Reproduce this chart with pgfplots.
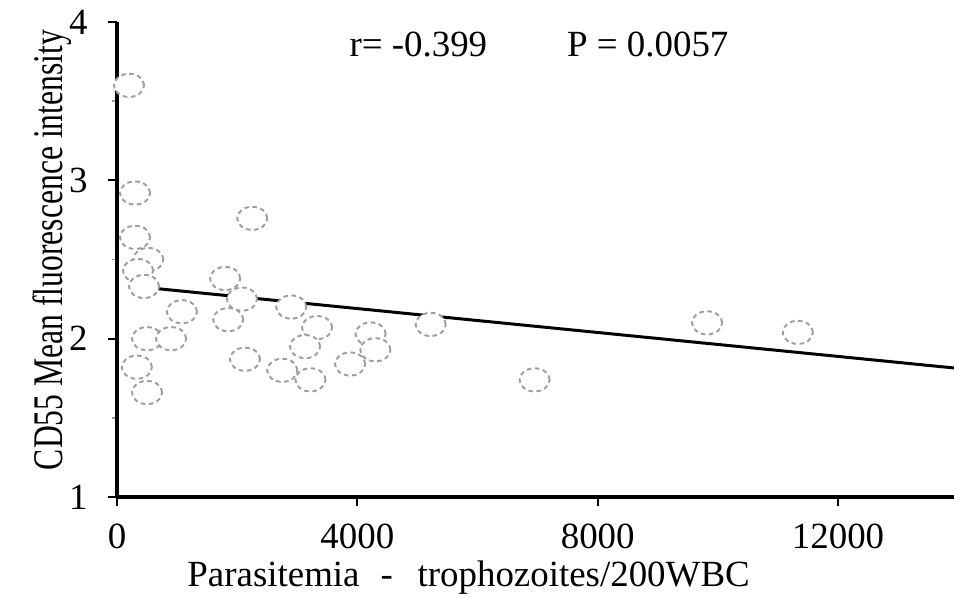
\documentclass[border=0pt]{standalone}
\usepackage{fontspec}
\setmainfont{Liberation Serif}
\usepackage{pgfplots}
\pgfplotsset{compat=1.18}

\begin{document}
\begin{tikzpicture}
\begin{axis}[
    name=ax,
    width=8.37cm, height=4.75cm,
    scale only axis,
    xmin=0, xmax=13930,
    ymin=1, ymax=4,
    axis x line*=bottom,
    axis y line*=left,
    axis line style={line width=0.9pt},
    xtick={0,4000,8000,12000},
    ytick={1,2,3,4},
    scaled ticks=false,
    minor y tick num=1,
    tick align=outside,
    major tick length=0.09cm,
    minor tick length=0.05cm,
    tick style={black, line width=0.6pt},
    minor tick style={black!40, line width=0.4pt},
    /pgf/number format/assume math mode=true,
    /pgf/number format/set thousands separator={},
    tick label style={font=\fontsize{10.5}{12}\selectfont},
    xticklabel style={yshift=-0.06cm},
    yticklabel style={xshift=-0.08cm},
    xlabel={Parasitemia\hspace{6pt}-\hspace{7pt}trophozoites/200WBC},
    xlabel style={at={(axis description cs:0.42,-0.17)}, anchor=center, font=\fontsize{10.5}{12}\selectfont},
    ylabel={\scalebox{0.75}[1]{\fontsize{12}{14}\selectfont CD55 Mean fluorescence intensity}},
    ylabel style={at={(axis description cs:-0.077,0.52)}, anchor=center},
    clip=false,
]
% regression line
\addplot[black, line width=0.85pt] coordinates {(300,2.33) (13930,1.815)};

% observations
\addplot[only marks, mark=*, mark size=3.3pt,
    mark options={xscale=1.3, fill=white, draw=black!38, line width=0.55pt, dash pattern=on 1.3pt off 1pt}]
coordinates {
    (200,3.60) (300,2.92) (300,2.64) (520,2.50) (350,2.43) (450,2.33)
    (1080,2.17) (500,2.00) (900,2.00) (330,1.82) (500,1.66)
    (2250,2.76) (1800,2.38) (2080,2.25) (1850,2.12) (2900,2.20) (2130,1.87)
    (3330,2.07) (3130,1.95) (2750,1.80) (3220,1.74)
    (4220,2.03) (3880,1.84) (4300,1.93)
    (5220,2.09) (6950,1.74) (9820,2.10) (11330,2.04)
};

\node[anchor=west, font=\fontsize{10.5}{12}\selectfont] at (axis description cs:0.263,0.952) {r= -0.399};
\node[anchor=west, font=\fontsize{10.5}{12}\selectfont] at (axis description cs:0.523,0.952) {P = 0.0057};
\end{axis}
\pgfresetboundingbox
\path ([xshift=-1.17cm,yshift=-1.0cm]ax.south west) rectangle ([yshift=0.22cm]ax.north east);
\end{tikzpicture}
\end{document}
